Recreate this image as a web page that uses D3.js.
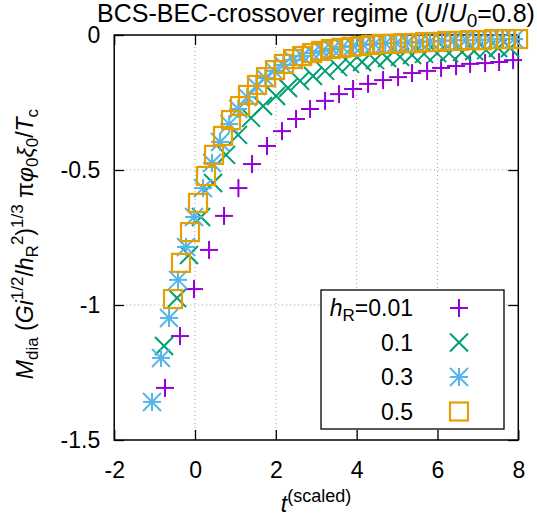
<!DOCTYPE html>
<html><head><meta charset="utf-8">
<script src="https://cdn.jsdelivr.net/npm/d3@7"></script>
<style>
html,body{margin:0;padding:0;background:#fff;}
svg{display:block;font-family:"Liberation Sans",Arial,sans-serif;}
</style></head>
<body>
<svg id="chart" width="537" height="519"></svg>
<script>
// ---- data ----
const xTicks = [-2, 0, 2, 4, 6, 8];
const xTickLabels = ["-2", "0", "2", "4", "6", "8"];
const yTicks = [0, -0.5, -1, -1.5];
const yTickLabels = ["0", "-0.5", "-1", "-1.5"];
const seriesNames = ["0.01", "0.1", "0.3", "0.5"];
const seriesColors = ["#9400d3", "#009e73", "#56b4e9", "#e69f00"];
const seriesSymbols = ["plus", "cross", "star", "square"];

const tPurple = [-0.743,-0.371,-0.025,0.347,0.718,1.074,1.411,1.782,2.153,2.500,2.847,3.218,3.564,3.911,4.282,4.653,5.025,5.371,5.743,6.089,6.460,6.807,7.178,7.525,7.871];
const mPurple = [-1.307,-1.115,-0.941,-0.796,-0.670,-0.567,-0.478,-0.411,-0.356,-0.311,-0.274,-0.244,-0.219,-0.200,-0.181,-0.167,-0.156,-0.141,-0.133,-0.122,-0.115,-0.107,-0.104,-0.100,-0.093];

const tGreen = [-0.767,-0.446,-0.149,0.149,0.446,0.767,1.064,1.386,1.683,2.005,2.302,2.599,2.921,3.218,3.540,3.837,4.134,4.455,4.752,5.074,5.371,5.668,5.990,6.287,6.609,6.906,7.203,7.500,7.797];
const mGreen = [-1.152,-0.974,-0.815,-0.674,-0.548,-0.444,-0.370,-0.307,-0.263,-0.226,-0.196,-0.170,-0.152,-0.133,-0.119,-0.107,-0.100,-0.093,-0.085,-0.081,-0.074,-0.070,-0.067,-0.067,-0.063,-0.059,-0.056,-0.048,-0.048];

const tBlue = [-1.064,-0.842,-0.644,-0.421,-0.223,-0.025,0.198,0.421,0.619,0.847,1.069,1.292,1.515,1.738,1.960,2.183,2.431,2.653,2.901,3.149,3.396,3.644,3.916,4.163,4.436,4.708,4.980,5.252,5.550,5.817,6.114,6.411,6.708,7.005,7.302,7.599,7.896];
const mBlue = [-1.359,-1.196,-1.048,-0.907,-0.785,-0.674,-0.567,-0.474,-0.396,-0.330,-0.274,-0.230,-0.189,-0.159,-0.133,-0.111,-0.093,-0.078,-0.067,-0.059,-0.052,-0.044,-0.041,-0.037,-0.033,-0.031,-0.030,-0.028,-0.026,-0.024,-0.022,-0.020,-0.019,-0.019,-0.017,-0.015,-0.015];

const tOrange = [-0.545,-0.347,-0.124,0.074,0.272,0.470,0.693,0.891,1.114,1.312,1.535,1.757,1.980,2.203,2.426,2.649,2.896,3.119,3.366,3.614,3.861,4.109,4.356,4.629,4.876,5.149,5.421,5.693,5.965,6.238,6.535,6.807,7.104,7.401,7.698,7.995];
const mOrange = [-0.978,-0.844,-0.730,-0.622,-0.522,-0.444,-0.374,-0.315,-0.263,-0.222,-0.185,-0.156,-0.130,-0.107,-0.089,-0.078,-0.067,-0.059,-0.052,-0.048,-0.044,-0.041,-0.037,-0.033,-0.033,-0.030,-0.030,-0.026,-0.026,-0.022,-0.022,-0.019,-0.019,-0.015,-0.015,-0.015];

const seriesT = [tPurple, tGreen, tBlue, tOrange];
const seriesM = [mPurple, mGreen, mBlue, mOrange];

// ---- layout ----
const L = 114.2, R = 518.3, T = 35, B = 440;
const svg = d3.select("#chart");
const x = d3.scaleLinear().domain([-2, 8]).range([L, R]);
const y = d3.scaleLinear().domain([-1.5, 0]).range([B, T]);
const fs = 23;

// grid
const grid = svg.append("g").attr("stroke", "#a0a0a0").attr("stroke-width", 1).attr("stroke-dasharray", "1,3");
xTicks.slice(1, -1).forEach(v => grid.append("line").attr("x1", x(v)).attr("x2", x(v)).attr("y1", T).attr("y2", B));
yTicks.slice(1, -1).forEach(v => grid.append("line").attr("x1", L).attr("x2", R).attr("y1", y(v)).attr("y2", y(v)));

// axes (ticks inward, mirrored)
const xb = svg.append("g").attr("transform", `translate(0,${B})`)
  .call(d3.axisBottom(x).tickValues(xTicks).tickSizeInner(-10).tickSizeOuter(0).tickPadding(22).tickFormat((d, i) => xTickLabels[i]));
const xt = svg.append("g").attr("transform", `translate(0,${T})`)
  .call(d3.axisTop(x).tickValues(xTicks).tickSizeInner(-10).tickSizeOuter(0).tickFormat(""));
const yl = svg.append("g").attr("transform", `translate(${L},0)`)
  .call(d3.axisLeft(y).tickValues(yTicks).tickSizeInner(-10).tickSizeOuter(0).tickPadding(14).tickFormat((d, i) => yTickLabels[i]));
const yr = svg.append("g").attr("transform", `translate(${R},0)`)
  .call(d3.axisRight(y).tickValues(yTicks).tickSizeInner(-10).tickSizeOuter(0).tickFormat(""));
[xb, xt, yl, yr].forEach(g => {
  g.select(".domain").remove();
  g.selectAll("line").attr("stroke", "#000").attr("stroke-width", 1.3);
  g.selectAll("text").attr("font-size", fs).attr("font-family", "Liberation Sans, Arial, sans-serif").attr("fill", "#000");
});
xb.selectAll("text").attr("dy", "0.71em");
svg.append("rect").attr("x", L).attr("y", T).attr("width", R - L).attr("height", B - T)
  .attr("fill", "none").attr("stroke", "#000").attr("stroke-width", 1.5);

// symbols
const S = 9;
function drawSymbol(g, type, cx, cy, color) {
  const s = g.append("g").attr("transform", `translate(${cx},${cy})`).attr("stroke", color).attr("stroke-width", 2).attr("fill", "none");
  if (type === "plus" || type === "star") {
    s.append("line").attr("x1", -S).attr("x2", S).attr("y1", 0).attr("y2", 0);
    s.append("line").attr("x1", 0).attr("x2", 0).attr("y1", -S).attr("y2", S);
  }
  if (type === "cross" || type === "star") {
    s.append("line").attr("x1", -S).attr("x2", S).attr("y1", -S).attr("y2", S);
    s.append("line").attr("x1", -S).attr("x2", S).attr("y1", S).attr("y2", -S);
  }
  if (type === "square") {
    s.append("rect").attr("x", -S).attr("y", -S).attr("width", 2 * S).attr("height", 2 * S).attr("stroke-width", 2.2);
  }
}
const pts = svg.append("g");
seriesT.forEach((ts, k) => {
  ts.forEach((t, i) => drawSymbol(pts, seriesSymbols[k], x(t), y(seriesM[k][i]), seriesColors[k]));
});

// legend
const lg = svg.append("g");
lg.append("rect").attr("x", 321).attr("y", 290).attr("width", 183).attr("height", 139)
  .attr("fill", "#fff").attr("stroke", "#000").attr("stroke-width", 1.3);
seriesNames.forEach((n, k) => {
  const cy = 308 + k * 34.5;
  const tx = lg.append("text").attr("x", 413).attr("y", cy + 8).attr("text-anchor", "end").attr("font-size", fs);
  if (k === 0) {
    tx.append("tspan").attr("font-style", "italic").text("h");
    tx.append("tspan").attr("font-size", 17).attr("dy", 5).text("R");
    tx.append("tspan").attr("dy", -5).text("=" + n);
  } else {
    tx.text(n);
  }
  drawSymbol(lg, seriesSymbols[k], 459, cy, seriesColors[k]);
});

// title
const title = svg.append("text").attr("x", 316).attr("y", 22).attr("text-anchor", "middle").attr("font-size", 25);
title.append("tspan").text("BCS-BEC-crossover regime (");
title.append("tspan").attr("font-style", "italic").text("U");
title.append("tspan").text("/");
title.append("tspan").attr("font-style", "italic").text("U");
title.append("tspan").attr("font-size", 19).attr("dy", 5).text("0");
title.append("tspan").attr("dy", -5).text("=0.8)");

// x label
const xlab = svg.append("text").attr("x", 316).attr("y", 512).attr("text-anchor", "middle").attr("font-size", fs);
xlab.append("tspan").attr("font-style", "italic").text("t");
xlab.append("tspan").attr("font-size", 18).attr("dy", -10).text("(scaled)");

// y label
const ylab = svg.append("text").attr("transform", "translate(33,244) rotate(-90)").attr("text-anchor", "middle").attr("font-size", fs);
const sub = 17, d1 = 5, d2 = 10;
function tsp(txt, opt) {
  const t = ylab.append("tspan").text(txt);
  if (opt && opt.it) t.attr("font-style", "italic");
  if (opt && opt.fs) t.attr("font-size", opt.fs);
  if (opt && opt.dy) t.attr("dy", opt.dy);
  return t;
}
tsp("M", {it: 1});
tsp("dia", {fs: sub, dy: d1});
tsp(" (", {dy: -d1});
tsp("Gi", {it: 1});
tsp("1/2", {fs: sub, dy: -d2});
tsp("/", {dy: d2});
tsp("h", {it: 1});
tsp("R", {fs: sub, dy: d1});
tsp("2", {fs: sub, dy: -d1 - d2});
tsp(")", {dy: d2});
tsp("1/3", {fs: sub, dy: -d2});
tsp(" π", {dy: d2});
tsp("φ", {it: 1});
tsp("0", {fs: sub, dy: d1});
tsp("ξ", {it: 1, dy: -d1});
tsp("0", {fs: sub, dy: d1});
tsp("/", {dy: -d1});
tsp("T", {it: 1});
tsp("c", {fs: sub, dy: d1});
</script>
</body></html>
